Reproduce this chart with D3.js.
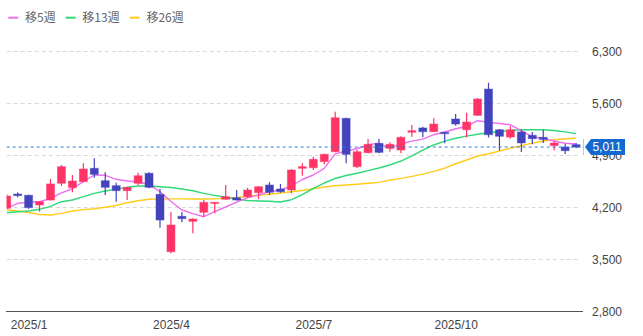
<!DOCTYPE html>
<html>
<head>
<meta charset="utf-8">
<script src="https://cdn.jsdelivr.net/npm/d3@7"></script>
<style>
  body { margin: 0; background: #fff; }
  svg { display: block; }
</style>
</head>
<body>
<svg id="chart" width="643" height="336"></svg>
<script>
// Weekly candles (week starting Monday)
const weeks = [
  "2024-12-23","2024-12-30","2025-01-06","2025-01-13","2025-01-20","2025-01-27","2025-02-03","2025-02-10",
  "2025-02-17","2025-02-24","2025-03-03","2025-03-10","2025-03-17","2025-03-24","2025-03-31","2025-04-07",
  "2025-04-14","2025-04-21","2025-04-28","2025-05-05","2025-05-12","2025-05-19","2025-05-26","2025-06-02",
  "2025-06-09","2025-06-16","2025-06-23","2025-06-30","2025-07-07","2025-07-14","2025-07-21","2025-07-28",
  "2025-08-04","2025-08-11","2025-08-18","2025-08-25","2025-09-01","2025-09-08","2025-09-15","2025-09-22",
  "2025-09-29","2025-10-06","2025-10-13","2025-10-20","2025-10-27","2025-11-03","2025-11-10","2025-11-17",
  "2025-11-24","2025-12-01","2025-12-08","2025-12-15","2025-12-22"
];
const open = [
  4187,4379,4362,4231,4298,4523,4464,4545,4725,4558,4491,4424,4523,4658,4375,3602,
  4079,4011,4133,4254,4308,4329,4343,4397,4500,4446,4433,4725,4733,4814,4948,5398,
  4747,4935,5061,4994,4971,5210,5268,5218,5210,5389,5244,5438,5792,5244,5146,5214,
  5169,5142,5030,5012,5043
];
const high = [
  4379,4402,4370,4285,4581,4769,4635,4792,4860,4671,4531,4477,4666,4671,4446,4137,
  4137,4052,4298,4270,4500,4433,4464,4485,4536,4514,4716,4792,4881,4920,5485,5405,
  4971,5119,5119,5075,5155,5308,5285,5398,5215,5456,5473,5671,5875,5255,5290,5244,
  5214,5244,5088,5052,5066
];
const low = [
  4180,4335,4181,4141,4290,4487,4402,4540,4599,4366,4275,4298,4500,4456,3925,3581,
  3998,3850,4073,4119,4300,4290,4329,4312,4366,4397,4388,4625,4702,4779,4940,4792,
  4725,4927,4927,4948,4927,5151,5142,5210,5061,5298,5140,5430,5140,4965,5123,4944,
  5048,5066,4967,4917,4998
];
const close = [
  4352,4357,4195,4275,4514,4747,4554,4716,4644,4469,4424,4469,4625,4469,4029,3962,
  4047,4042,4267,4267,4343,4298,4433,4477,4402,4410,4702,4747,4846,4913,5406,4913,
  4948,5048,4940,5048,5142,5231,5218,5321,5191,5321,5348,5658,5177,5156,5244,5066,
  5123,5115,5066,4962,5011
];
// Moving averages (5, 13 and 26 weeks)
const ma5 = [
  4187,4254,4267,4275,4321,4393,4450,4545,4635,4631,4577,4554,4541,4507,4410,4278,
  4164,4114,4073,4141,4204,4271,4329,4366,4410,4433,4487,4574,4635,4725,4920,4958,
  4988,5043,5062,4994,5055,5090,5117,5177,5214,5257,5288,5366,5344,5328,5311,5231,
  5149,5123,5092,5063,5052
];
const ma13 = [
  4127,4141,4150,4173,4213,4275,4298,4343,4388,4419,4444,4469,4487,4487,4477,4466,
  4446,4423,4388,4361,4335,4309,4291,4285,4281,4271,4302,4372,4456,4527,4588,4628,
  4658,4693,4729,4769,4823,4891,4971,5039,5090,5129,5158,5184,5204,5220,5234,5243,
  5243,5243,5234,5216,5191
];
const ma26 = [
  4164,4150,4130,4103,4096,4119,4150,4168,4181,4200,4224,4262,4289,4308,4312,4314,
  4313,4312,4312,4314,4321,4332,4348,4361,4376,4392,4409,4426,4449,4473,4491,4500,
  4510,4523,4536,4567,4590,4617,4646,4683,4726,4786,4837,4891,4921,4958,4996,5029,
  5063,5092,5110,5123,5130
];
const yTicks = [2800, 3500, 4200, 4900, 5600, 6300];
const xTickWeeks = ["2025-01-06","2025-04-07","2025-07-07","2025-10-06"];
const lastPrice = 5011;
const legendItems = [
  { label: "移5週",  color: "#ee6fee", values: ma5 },
  { label: "移13週", color: "#2fd97a", values: ma13 },
  { label: "移26週", color: "#ffcc1a", values: ma26 }
];

const UP = "#ff3366", DOWN = "#4343bd";
const plot = { left: 6.7, right: 583, top: 40, bottom: 311.3 };

const svg = d3.select("#chart");
const x = d3.scalePoint().domain(weeks).range([6.7, 576.1]);
const y = d3.scaleLinear().domain([2800, 6300]).range([311.3, 51.3]);

// clip for the plotting area
svg.append("defs").append("clipPath").attr("id", "plotClip")
  .append("rect")
  .attr("x", plot.left).attr("y", plot.top)
  .attr("width", plot.right - plot.left).attr("height", plot.bottom - plot.top);

// horizontal dashed grid
svg.append("g").selectAll("line")
  .data(yTicks.filter(t => t !== 2800))
  .join("line")
  .attr("x1", plot.left).attr("x2", 580)
  .attr("y1", d => Math.round(y(d)) + 0.5).attr("y2", d => Math.round(y(d)) + 0.5)
  .attr("stroke", "#d8d8d8").attr("stroke-width", 1)
  .attr("stroke-dasharray", "4,3");

// bottom axis line and month labels
const xAxis = d3.axisBottom(x)
  .tickValues(xTickWeeks)
  .tickSize(0)
  .tickPadding(9)
  .tickFormat(w => { const d = new Date(w + "T00:00:00"); return d.getFullYear() + "/" + (d.getMonth() + 1); });
const gx = svg.append("g").attr("transform", `translate(0,${Math.round(plot.bottom) + 0.5})`).call(xAxis);
gx.select(".domain").remove();
gx.append("line").attr("x1", 6).attr("x2", plot.right).attr("stroke", "#555").attr("stroke-width", 1);
gx.selectAll("text").attr("fill", "#444").style("font", "12px 'Liberation Sans', Arial, sans-serif");

// price axis on the right
const yAxis = d3.axisRight(y)
  .tickValues(yTicks)
  .tickSize(0)
  .tickPadding(9)
  .tickFormat(d3.format(","));
const gy = svg.append("g").attr("transform", `translate(${plot.right},0)`).call(yAxis);
gy.select(".domain").remove();
gy.selectAll("text").attr("fill", "#444").style("font", "12px 'Liberation Sans', Arial, sans-serif");

const body = svg.append("g").attr("clip-path", "url(#plotClip)");

// moving average lines
const rows = weeks.map((w, i) => ({ w, o: open[i], h: high[i], l: low[i], c: close[i] }));
legendItems.slice().reverse().forEach(item => {
  body.append("path")
    .datum(item.values)
    .attr("fill", "none")
    .attr("stroke", item.color)
    .attr("stroke-width", 1.4)
    .attr("stroke-linejoin", "round")
    .attr("d", d3.line().x((v, i) => x(weeks[i])).y(v => y(v)));
});

// candles
const candle = body.append("g").selectAll("g").data(rows).join("g");
candle.append("line")
  .attr("x1", d => x(d.w)).attr("x2", d => x(d.w))
  .attr("y1", d => y(d.h)).attr("y2", d => y(d.l))
  .attr("stroke", d => d.c >= d.o ? UP : DOWN).attr("stroke-width", 1.2);
candle.append("rect")
  .attr("x", d => x(d.w) - 4).attr("width", 8)
  .attr("y", d => y(Math.max(d.o, d.c)))
  .attr("height", d => Math.max(1.2, Math.abs(y(d.o) - y(d.c))))
  .attr("fill", d => d.c >= d.o ? UP : DOWN)
  .attr("stroke", d => d.c >= d.o ? UP : DOWN)
  .attr("stroke-opacity", 0.45).attr("stroke-width", 1);

// last price line and tag
const yp = y(lastPrice);
svg.append("line")
  .attr("x1", plot.left).attr("x2", plot.right)
  .attr("y1", yp).attr("y2", yp)
  .attr("stroke", "#2f7fd6").attr("stroke-width", 1)
  .attr("stroke-dasharray", "3,3");
svg.append("line")
  .attr("x1", plot.right + 0.5).attr("x2", plot.right + 0.5)
  .attr("y1", yp - 8).attr("y2", yp + 8)
  .attr("stroke", "#a9cbf2").attr("stroke-width", 1);
svg.append("path")
  .attr("d", `M${plot.right + 2},${yp} L${plot.right + 8},${yp - 8} H625 V${yp + 8} H${plot.right + 8} Z`)
  .attr("fill", "#1469cf");
svg.append("text")
  .attr("x", 607).attr("y", yp).attr("dy", "0.35em")
  .attr("text-anchor", "middle").attr("fill", "#fff")
  .style("font", "12px 'Liberation Sans', Arial, sans-serif")
  .text(d3.format(",")(lastPrice));

// legend
const legend = svg.append("g");
let lx = 8.3;
legendItems.forEach(item => {
  const g = legend.append("g").attr("transform", `translate(${lx},17.7)`);
  g.append("rect").attr("x", 0).attr("y", -1).attr("width", 10).attr("height", 2).attr("fill", item.color);
  const t = g.append("text").attr("x", 16.7).attr("dy", "0.36em")
    .attr("fill", "#666")
    .style("font", "12px 'Noto Sans CJK JP', 'Noto Sans', sans-serif")
    .text(item.label);
  lx += 16.7 + t.node().getComputedTextLength() + 10;
});
</script>
</body>
</html>
